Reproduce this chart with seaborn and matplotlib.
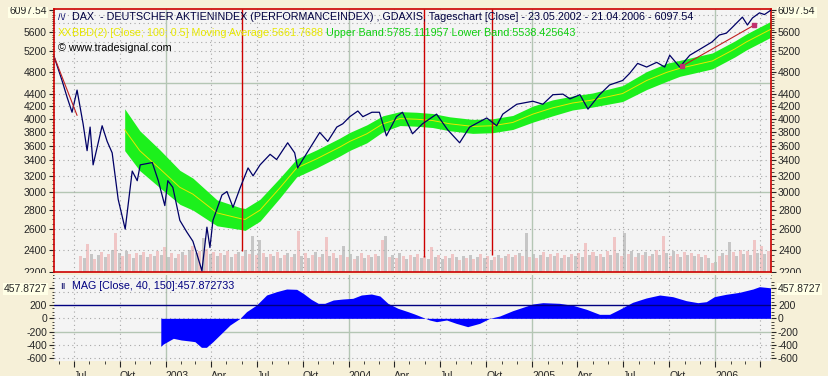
import numpy as np
import pandas as pd
import seaborn as sns
import matplotlib.pyplot as plt
from matplotlib.ticker import FixedLocator, FixedFormatter, NullFormatter
from matplotlib.patches import Rectangle

sns.set_style("white")
plt.rcParams['font.family'] = ['Liberation Sans', 'DejaVu Sans']
plt.rcParams['font.size'] = 7.5

# --- data --------------------------------------------------------------
price_dates = ['2002-05-23', '2002-06-08', '2002-06-18', '2002-06-28', '2002-07-08', '2002-07-20',
               '2002-07-28', '2002-08-03', '2002-08-09', '2002-08-27', '2002-09-06', '2002-09-16',
               '2002-09-28', '2002-10-12', '2002-10-26', '2002-11-05', '2002-11-11', '2002-12-05',
               '2002-12-17', '2002-12-30', '2003-01-05', '2003-01-15', '2003-01-29', '2003-02-12',
               '2003-02-24', '2003-03-04', '2003-03-14', '2003-03-24', '2003-03-30', '2003-04-05',
               '2003-04-23', '2003-05-03', '2003-05-15', '2003-05-29', '2003-06-14', '2003-06-24',
               '2003-07-08', '2003-07-28', '2003-08-10', '2003-09-01', '2003-09-15', '2003-09-21',
               '2003-10-15', '2003-11-04', '2003-11-20', '2003-12-08', '2003-12-20', '2004-01-03',
               '2004-01-19', '2004-01-29', '2004-02-16', '2004-03-02', '2004-03-16', '2004-04-05',
               '2004-04-17', '2004-05-07', '2004-05-27', '2004-06-24', '2004-07-16', '2004-08-09',
               '2004-08-29', '2004-10-02', '2004-10-22', '2004-11-03', '2004-12-01', '2005-01-02',
               '2005-01-22', '2005-02-11', '2005-03-03', '2005-03-17', '2005-04-06', '2005-04-22',
               '2005-05-15', '2005-06-04', '2005-06-30', '2005-07-14', '2005-07-30', '2005-08-17',
               '2005-09-06', '2005-09-22', '2005-10-02', '2005-10-22', '2005-11-11', '2005-12-01',
               '2005-12-25', '2006-01-09', '2006-01-23', '2006-02-04', '2006-02-24', '2006-03-06',
               '2006-03-16', '2006-03-30', '2006-04-09', '2006-04-21']
price_close = [5100, 4640, 4350, 4100, 4470, 3920,
               3530, 3870, 3340, 3890, 3660, 3500,
               2920, 2600, 3260, 3140, 3340, 3370,
               3140, 2850, 3140, 3060, 2690, 2570,
               2480, 2360, 2210, 2620, 2420, 2690,
               2970, 3010, 2830, 3050, 3300, 3200,
               3340, 3480, 3410, 3640, 3500, 3300,
               3560, 3790, 3660, 3870, 3920, 4030,
               4120, 4030, 4100, 4100, 3740, 4030,
               4100, 3770, 3920, 4070, 3830, 3640,
               3870, 4010, 3890, 4070, 4230, 4280,
               4230, 4390, 4400, 4320, 4390, 4150,
               4390, 4560, 4640, 4770, 4960, 4890,
               4980, 4890, 5120, 4890, 5120, 5240,
               5390, 5540, 5580, 5710, 5940, 5760,
               5920, 6040, 6000, 6097.54]

band_dates = ['2002-10-11', '2002-11-10', '2002-12-20', '2003-01-29', '2003-02-24', '2003-04-13',
              '2003-05-29', '2003-06-08', '2003-07-08', '2003-08-16', '2003-09-19', '2003-10-29',
              '2003-12-14', '2004-01-03', '2004-02-06', '2004-03-09', '2004-04-12', '2004-05-15',
              '2004-06-16', '2004-07-20', '2004-09-04', '2004-10-14', '2004-11-23', '2005-01-02',
              '2005-02-10', '2005-03-22', '2005-05-01', '2005-06-30', '2005-08-17', '2005-09-26',
              '2005-10-22', '2005-12-26', '2006-02-09', '2006-03-04', '2006-04-21']
band_mid = [3830, 3530, 3290, 3060, 2980, 2770,
            2710, 2700, 2800, 3050, 3300, 3420,
            3580, 3660, 3770, 3920, 4000, 3990,
            3970, 3920, 3880, 3890, 3940, 4070,
            4170, 4250, 4300, 4410, 4640, 4790,
            4865, 5008, 5248, 5393, 5662]
band_upper = [4156, 3816, 3542, 3269, 3172, 2914,
              2828, 2818, 2922, 3171, 3418, 3542,
              3707, 3790, 3904, 4044, 4110, 4100,
              4080, 4028, 3987, 3997, 4049, 4199,
              4302, 4367, 4419, 4549, 4805, 4961,
              5019, 5166, 5414, 5563, 5841]
band_lower = [3530, 3266, 3056, 2864, 2800, 2634,
              2597, 2587, 2683, 2933, 3187, 3302,
              3457, 3534, 3640, 3800, 3893, 3883,
              3863, 3815, 3776, 3786, 3834, 3945,
              4042, 4136, 4184, 4275, 4480, 4625,
              4716, 4855, 5087, 5228, 5488]

volume_start = '2002-07-15'
volume = [16, 14, 28, 18, 13, 17, 20, 15, 18, 22, 39, 19, 16, 21, 18, 14, 19, 17, 20, 15,
          18, 16, 21, 17, 25, 15, 19, 14, 18, 20, 17, 22, 26, 19, 21, 34, 23, 18, 20, 16,
          19, 17, 21, 15, 18, 20, 16, 22, 18, 36, 17, 32, 19, 15, 18, 16, 20, 14, 17, 19,
          15, 18, 41, 16, 19, 14, 17, 20, 15, 18, 35, 16, 19, 14, 17, 26, 15, 18, 13, 16,
          19, 14, 17, 15, 18, 16, 32, 36, 15, 17, 14, 19, 16, 13, 17, 15, 18, 14, 16, 13,
          25, 15, 17, 13, 16, 14, 18, 15, 12, 16, 14, 17, 13, 15, 18, 14, 16, 12, 15, 17,
          14, 16, 18, 15, 17, 19, 16, 39, 15, 18, 14, 17, 20, 15, 18, 16, 19, 14, 17, 15,
          18, 16, 19, 15, 29, 17, 20, 16, 18, 15, 21, 17, 35, 19, 16, 39, 18, 21, 15, 19,
          17, 20, 16, 18, 22, 17, 36, 19, 16, 21, 18, 15, 20, 17, 19, 16, 18, 15, 17, 14,
          9, 10, 16, 19, 17, 30, 20, 16, 22, 18, 21, 17, 32, 19, 26, 18, 21, 17]

mag_dates = ['2002-12-22', '2002-12-27', '2003-01-16', '2003-02-01', '2003-02-18', '2003-02-28',
             '2003-03-13', '2003-03-23', '2003-04-05', '2003-04-22', '2003-05-09', '2003-05-29',
             '2003-06-11', '2003-07-01', '2003-07-21', '2003-08-10', '2003-08-30', '2003-09-19',
             '2003-10-02', '2003-10-18', '2003-11-01', '2003-11-14', '2003-12-01', '2003-12-20',
             '2004-01-09', '2004-01-26', '2004-02-15', '2004-03-03', '2004-03-19', '2004-04-08',
             '2004-04-28', '2004-05-11', '2004-05-21', '2004-06-10', '2004-06-24', '2004-07-14',
             '2004-08-02', '2004-08-25', '2004-09-18', '2004-10-08', '2004-10-28', '2004-11-23',
             '2004-12-13', '2005-01-02', '2005-01-22', '2005-02-24', '2005-03-23', '2005-04-19',
             '2005-05-15', '2005-06-04', '2005-06-24', '2005-07-20', '2005-08-16', '2005-09-12',
             '2005-10-08', '2005-11-04', '2005-11-27', '2005-12-14', '2005-12-30', '2006-01-22',
             '2006-02-18', '2006-03-17', '2006-03-30', '2006-04-21']
mag_values = [-420, -385, -300, -325, -340, -350,
              -435, -435, -350, -225, -100, 0,
              100, 200, 350, 400, 440, 435,
              375, 285, 225, 225, 275, 290,
              300, 350, 365, 335, 225, 150,
              100, 65, 35, -25, -50, -25,
              -75, -125, -75, 0, 35, 115,
              165, 215, 235, 225, 195, 135,
              60, 60, 135, 240, 305, 350,
              325, 265, 235, 250, 325, 360,
              390, 440, 475, 457.872733]

signal_dates = ['2003-06-01', '2004-05-30', '2004-10-13']
signal_low = [2385, 2330, 2355]
trend_dates = [['2002-05-23', '2002-07-08'], ['2005-10-26', '2006-03-19']]
trend_values = [[5100, 4050], [4904, 5755]]

price_ticks = [2200, 2400, 2600, 2800, 3000, 3200, 3400, 3600, 3800, 4000, 4200, 4400, 4800, 5200, 5600]
last_close = 6097.54
mag_ticks = [-600, -400, -200, 0, 200]
mag_last = 457.8727

# --- colours -------------------------------------------------------------
BG = '#F6F0D8'
PANEL = '#F4F4F4'
NAVY = '#000066'
RED = '#CC0000'
LIME = '#1CF01C'
GRID = '#A8A8A8'
SOLID = '#B4C6B4'
HEAD = 7.75

price_dates = pd.to_datetime(price_dates)
band_dates = pd.to_datetime(band_dates)
mag_dates = pd.to_datetime(mag_dates)
vol_dates = pd.date_range(volume_start, periods=len(volume), freq='7D')
x0, x1 = pd.Timestamp('2002-05-23'), pd.Timestamp('2006-04-22')

fig = plt.figure(figsize=(8.29, 3.76), dpi=100, facecolor=BG)
rect_main = [54 / 829, 1 - 272 / 376, 717 / 829, 263 / 376]
rect_low = [54 / 829, 1 - 361 / 376, 717 / 829, 86 / 376]

ax_vol = fig.add_axes(rect_main)
ax = fig.add_axes(rect_main, sharex=ax_vol)
ax2 = fig.add_axes(rect_low, sharex=ax_vol)

# volume underlay (own axes, drawn below the price panel)
ax_vol.set_facecolor(PANEL)
vol_colors = ['#F0C6C6' if i % 2 == 0 else '#C6C6C6' for i in range(len(volume))]
ax_vol.bar(vol_dates, volume, width=6, color=vol_colors, linewidth=0)
ax_vol.set_ylim(0, 263)
ax_vol.set_xlim(x0, x1)
ax_vol.tick_params(which='both', left=False, bottom=False, labelleft=False, labelbottom=False)
for sp in ax_vol.spines.values():
    sp.set_visible(False)

# main price panel
ax.patch.set_visible(False)
ax.set_yscale('log')
ax.set_ylim(2200, 6131)
for v in range(2400, 6001, 200):
    if v in (3000, 4600):
        ax.axhline(v, color=SOLID, lw=1, zorder=0.5)
    else:
        ax.axhline(v, color=GRID, lw=0.8, ls=(0, (1, 3)), zorder=0.5)

quarters = pd.date_range('2002-07-01', '2006-04-01', freq='QS')
for q in quarters:
    for a in (ax, ax2):
        if q.month == 1:
            a.axvline(q, color=SOLID, lw=1, zorder=0.5)
        else:
            a.axvline(q, color=GRID, lw=0.8, ls=(0, (1, 3)), zorder=0.5)

ax.fill_between(band_dates, band_lower, band_upper, color=LIME, lw=0, zorder=2)
sns.lineplot(x=band_dates, y=band_mid, ax=ax, color='#E8E800', lw=0.7, zorder=3,
             estimator=None, sort=False)
sns.lineplot(x=price_dates, y=price_close, ax=ax, color=NAVY, lw=0.9, zorder=4,
             estimator=None, sort=False)
ax.vlines(pd.to_datetime(signal_dates), signal_low, 6131, color=RED, lw=1, zorder=3)
for d, v in zip(trend_dates, trend_values):
    ax.plot(pd.to_datetime(d), v, color='#C02020', lw=0.8, zorder=5)
ax.plot(pd.to_datetime(trend_dates[1]), trend_values[1], ls='none', marker='s', ms=2.5,
        color='#C03070', zorder=6)

ax.yaxis.set_major_locator(FixedLocator(price_ticks + [last_close]))
ax.yaxis.set_major_formatter(FixedFormatter([str(t) for t in price_ticks] + [f'{last_close:.2f}']))
ax.yaxis.set_minor_locator(FixedLocator(list(range(2200, 6150, 50))))
ax.yaxis.set_minor_formatter(NullFormatter())
ax.tick_params(axis='y', which='major', length=3.5, width=0.8, pad=1.5, labelsize=7.5,
               left=True, right=True, labelleft=True, labelright=True)
ax.tick_params(axis='y', which='minor', length=1.8, width=0.6, left=True, right=True)
ax.tick_params(axis='x', which='both', bottom=False, labelbottom=False)
for sp in ax.spines.values():
    sp.set_color(RED)
    sp.set_linewidth(1.2)
last_tick = ax.yaxis.get_major_ticks()[-1]
for lab in (last_tick.label1, last_tick.label2):
    lab.set_bbox(dict(facecolor='#FFFFE6', edgecolor='none', pad=0.8))
ax.set_xlabel('')
ax.set_ylabel('')

# header texts
ax.text(0.005, 0.958, '/\\/', transform=ax.transAxes, color=NAVY, fontsize=6.5, va='baseline')
ax.text(0.0245, 0.958, 'DAX  - DEUTSCHER AKTIENINDEX (PERFORMANCEINDEX) ,.GDAXIS, Tageschart [Close]'
        ' - 23.05.2002 - 21.04.2006 - 6097.54', transform=ax.transAxes, color='#000040',
        va='baseline', fontsize=HEAD)
ax.text(0.005, 0.898, 'XX', transform=ax.transAxes, color='#E8E800', va='baseline', fontsize=HEAD)
t_ma = ax.text(0.0245, 0.898, 'BBD(2) [Close; 100; 0.5] Moving Average:5661.7688', transform=ax.transAxes,
               color='#E8E800', va='baseline', fontsize=HEAD)
ax.annotate(' Upper Band:5785.111957 Lower Band:5538.425643', xy=(1, 0), xycoords=t_ma,
            va='bottom', ha='left', color='#10D010', fontsize=HEAD)
ax.text(0.006, 0.842, '\u00a9 www.tradesignal.com', transform=ax.transAxes, color='black',
        va='baseline', fontsize=HEAD)

# lower MAG panel
ax2.set_facecolor(PANEL)
ax2.set_ylim(-640, 650)
for v in (600, 400, 0, -400, -600):
    ax2.axhline(v, color=GRID, lw=0.8, ls=(0, (1, 3)), zorder=0.5)
ax2.axhline(-200, color=SOLID, lw=1, zorder=0.5)
ax2.fill_between(mag_dates, 0, mag_values, color='#0000FF', lw=0, zorder=2)
ax2.axhline(200, color='#000080', lw=1, zorder=3)
ax2.text(0.009, 0.84, '\u0131\u0131', transform=ax2.transAxes, color=NAVY, va='baseline', fontsize=7)
ax2.text(0.0255, 0.84, 'MAG [Close, 40, 150]:457.872733', transform=ax2.transAxes, color='#000080',
         va='baseline', fontsize=HEAD)

ax2.yaxis.set_major_locator(FixedLocator(mag_ticks + [mag_last]))
ax2.yaxis.set_major_formatter(FixedFormatter([str(t) for t in mag_ticks] + ['457.8727']))
ax2.yaxis.set_minor_locator(FixedLocator(list(range(-650, 651, 50))))
ax2.yaxis.set_minor_formatter(NullFormatter())
ax2.tick_params(axis='y', which='major', length=3.5, width=0.8, pad=1.5, labelsize=7.5,
                left=True, right=True, labelleft=True, labelright=True)
ax2.tick_params(axis='y', which='minor', length=1.8, width=0.6, left=True, right=True)
for sp in ax2.spines.values():
    sp.set_visible(False)
mag_tick = ax2.yaxis.get_major_ticks()[-1]
for lab in (mag_tick.label1, mag_tick.label2):
    lab.set_bbox(dict(facecolor='#FFFFE6', edgecolor='none', pad=0.8))

month_lab = {1: None, 4: 'Apr', 7: 'Jul', 10: 'Okt'}
q_labels = [str(q.year) if q.month == 1 else month_lab[q.month] for q in quarters]
q_labels[-1] = ''  # the last quarter carries no label in the original
ax2.set_xticks(quarters, labels=q_labels, ha='left')
ax2.set_xticks(pd.date_range('2002-06-01', '2006-04-01', freq='MS'), minor=True)
ax2.tick_params(axis='x', which='major', length=4, width=0.8, pad=3.5, labelsize=7.5, bottom=True)
ax2.tick_params(axis='x', which='minor', length=2, width=0.6, bottom=True)
ax2.set_xlim(x0, x1)
ax2.set_xlabel('')
ax2.set_ylabel('')

# beige strips that cut the edge labels like the original
for (x, y, w, h) in [(0, 0, 53, 6.5), (772, 0, 57, 6.5), (0, 272.8, 53, 9.5), (772, 272.8, 57, 9.5)]:
    fig.add_artist(Rectangle((x / 829, 1 - (y + h) / 376), w / 829, h / 376,
                             transform=fig.transFigure, facecolor=BG, edgecolor='none', zorder=5))

fig.savefig('out.png', dpi=100, facecolor=BG)
